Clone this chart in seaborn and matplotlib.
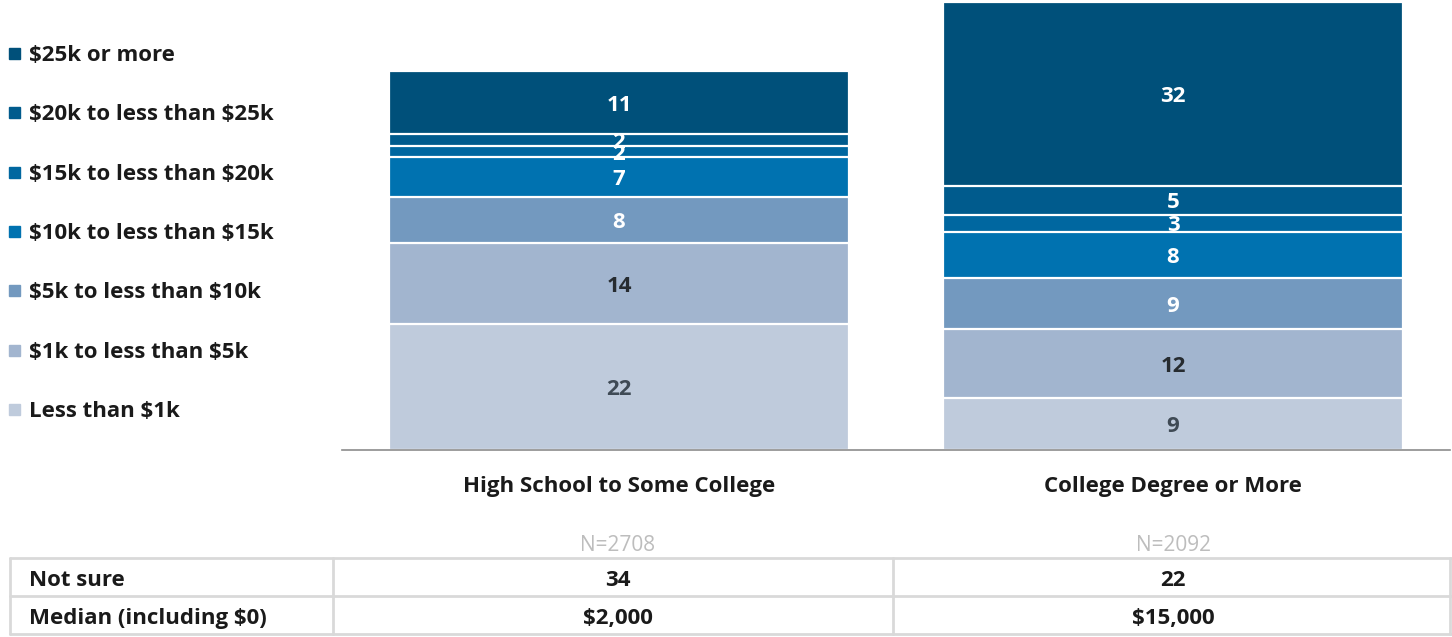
# Savings by education level - stacked bar with summary table

import numpy as np
import pandas as pd
import matplotlib
matplotlib.use("Agg")
import matplotlib.pyplot as plt
import seaborn as sns
from matplotlib.patches import Rectangle
from matplotlib.lines import Line2D

# ------------------------------
# Data
# ------------------------------
groups = ["High School to Some College", "College Degree or More"]
brackets = ["Less than $1k", "$1k to less than $5k", "$5k to less than $10k",
            "$10k to less than $15k", "$15k to less than $20k",
            "$20k to less than $25k", "$25k or more"]
hs_values = [22, 14, 8, 7, 2, 2, 11]
college_values = [9, 12, 9, 8, 3, 5, 32]
sample_sizes = ["N=2708", "N=2092"]
not_sure = ["34", "22"]
medians = ["$2,000", "$15,000"]

colors = ["#bfcbdc", "#a2b5cf", "#7399bf", "#0072b0", "#0067a0", "#005b8d", "#00507a"]
label_colors = ["#3f4a55", "#262b30", "white", "white", "white", "white", "white"]

df = pd.DataFrame({
    "group": np.repeat(groups, len(brackets)),
    "bracket": brackets * 2,
    "value": hs_values + college_values,
})
df["top"] = df.groupby("group")["value"].cumsum()

# ------------------------------
# Figure
# ------------------------------
sns.set_style("white")
plt.rcParams["font.family"] = ["Open Sans", "DejaVu Sans"]
plt.rcParams["text.parse_math"] = False

FS = 16
W, H = 1452, 637
fig = plt.figure(figsize=(W / 100, H / 100), dpi=100)


def fx(px):
    return px / W


def fy(py):
    return 1 - py / H


ax = fig.add_axes([fx(342), fy(450), fx(1450) - fx(342), 450 / H])

# draw cumulative bars from the top segment down so they look stacked
for i in reversed(range(len(brackets))):
    sub = df[df["bracket"] == brackets[i]]
    sns.barplot(data=sub, x="group", y="top", order=groups, color=colors[i],
                saturation=1, width=0.83, edgecolor="white", linewidth=1.6,
                errorbar=None, ax=ax)

for _, row in df.iterrows():
    i = brackets.index(row["bracket"])
    x = groups.index(row["group"])
    ax.text(x, row["top"] - row["value"] / 2, str(row["value"]), ha="center",
            va="center_baseline", fontsize=FS, fontweight="bold",
            color=label_colors[i])

ax.set_xlim(-0.5, 1.5)
ax.set_ylim(0, 78.4)
ax.set_yticks([])
ax.set_xlabel("")
ax.set_ylabel("")
for s in ["top", "left", "right"]:
    ax.spines[s].set_visible(False)
ax.spines["bottom"].set_color("#8c8c8c")
ax.spines["bottom"].set_linewidth(1.2)
ax.set_xticks([0, 1])
ax.set_xticklabels(groups, fontsize=FS, fontweight="bold", color="#1a1a1a")
ax.tick_params(axis="x", which="major", length=0, pad=19)
ax.set_xticks([-0.5, 0.5, 1.5], minor=True)
ax.tick_params(axis="x", which="minor", length=8, width=1.2, color="#8c8c8c",
               direction="out")

# ------------------------------
# Legend (drawn by hand)
# ------------------------------
for k, b in enumerate(reversed(brackets)):
    y = 53 + k * 59.3
    c = colors[len(brackets) - 1 - k]
    fig.add_artist(Rectangle((fx(9), fy(y + 6)), 11 / W, 11 / H,
                             transform=fig.transFigure, color=c))
    fig.text(fx(29), fy(y), b, ha="left", va="center_baseline", fontsize=FS,
             fontweight="bold", color="#1a1a1a")

# ------------------------------
# Table below the chart
# ------------------------------
centers = [618, 1173]
for x, n in zip(centers, sample_sizes):
    fig.text(fx(x), fy(543), n, ha="center", va="center_baseline", fontsize=15,
             color="#bdbdbd")

line_kw = dict(transform=fig.transFigure, color="#d9d9d9", linewidth=2)
for y in [558, 596, 634]:
    fig.add_artist(Line2D([fx(10), fx(1452)], [fy(y), fy(y)], **line_kw))
for x in [10, 333, 893, 1450]:
    fig.add_artist(Line2D([fx(x), fx(x)], [fy(558), fy(634)], **line_kw))

rows = [("Not sure", not_sure, 578), ("Median (including $0)", medians, 616)]
for name, vals, y in rows:
    fig.text(fx(29), fy(y), name, ha="left", va="center_baseline", fontsize=FS,
             fontweight="bold", color="#1a1a1a")
    for x, v in zip(centers, vals):
        fig.text(fx(x), fy(y), v, ha="center", va="center_baseline",
                 fontsize=FS, fontweight="bold", color="#1a1a1a")

fig.savefig("out.png", dpi=100)
